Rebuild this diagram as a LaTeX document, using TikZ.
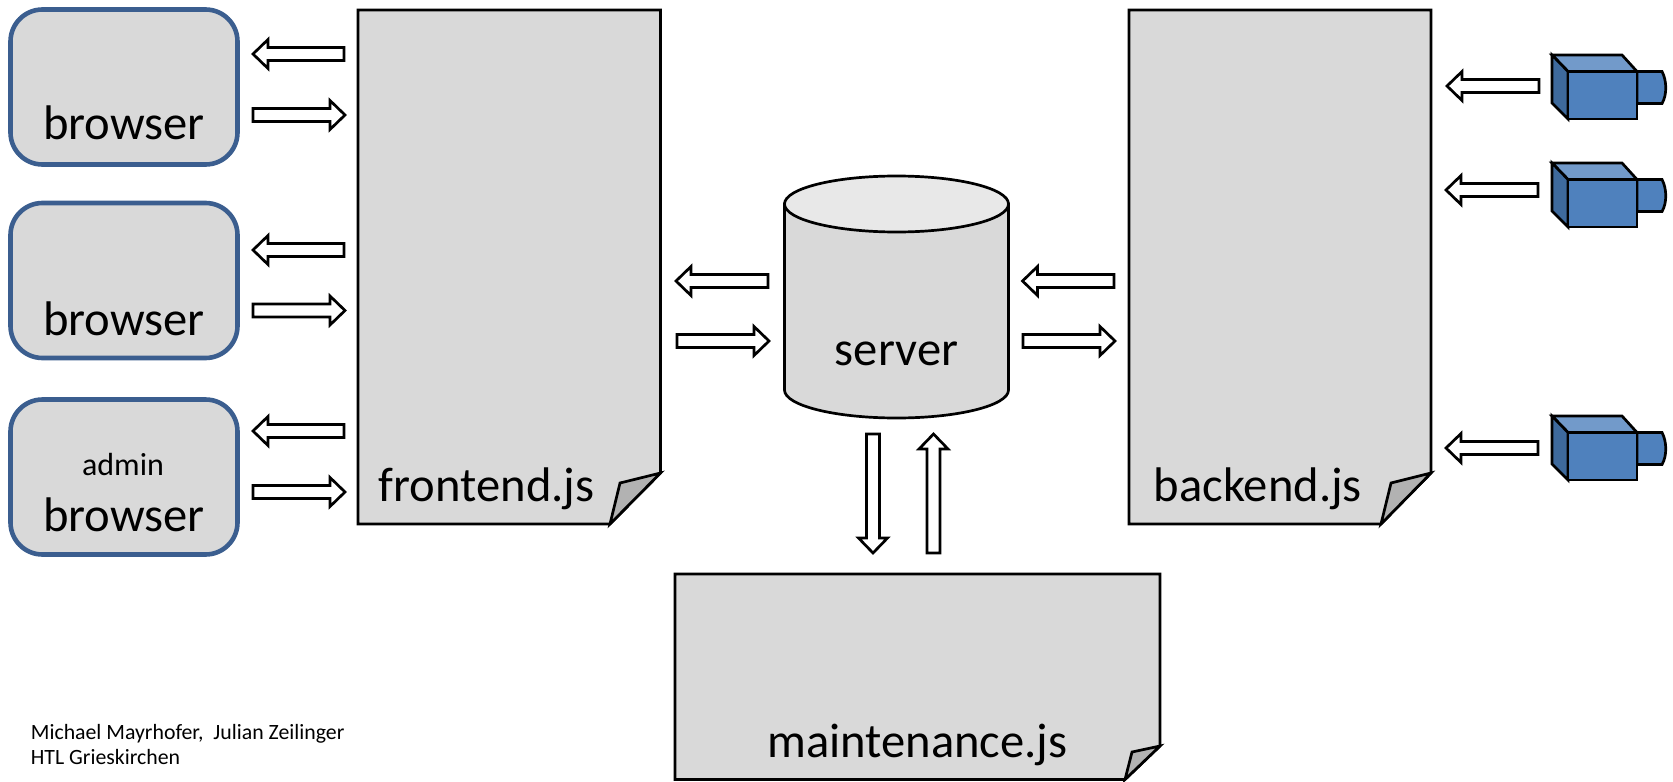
\documentclass[tikz,border=0pt]{standalone}
\usepackage{fontspec}
\setmainfont{Carlito}
\usetikzlibrary{calc}
\definecolor{boxgrey}{HTML}{D9D9D9}
\definecolor{topgrey}{HTML}{E8E8E8}
\definecolor{foldgrey}{HTML}{B2B2B2}
\definecolor{browserblue}{HTML}{3B5E8F}
\definecolor{camfront}{HTML}{4F81BD}
\definecolor{camtop}{HTML}{729ACA}
\definecolor{camside}{HTML}{3E6A9D}
\tikzset{
  x=0.5pt,y=-0.5pt,
  browserbox/.style={draw=browserblue,line width=2.3pt,fill=boxgrey,rounded corners=16pt,inner sep=0pt,outer sep=0pt,minimum width=113.5pt,minimum height=77.5pt,anchor=north west},
  blackline/.style={draw=black,line width=1.35pt,line join=miter},
  bigtext/.style={font=\fontsize{24.3}{29}\selectfont,inner sep=0pt,anchor=base,text=black},
  smalltext/.style={font=\fontsize{16}{19}\selectfont,inner sep=0pt,anchor=base,text=black},
  foottext/.style={font=\fontsize{10.9}{13}\selectfont,inner sep=0pt,anchor=base west,text=black},
  pics/blockarrow/.style={code={
    \draw[blackline,fill=white,miter limit=10] (0,-6.5) -- (#1-15,-6.5) -- (#1-15,-14.5) -- (#1,0) -- (#1-15,14.5) -- (#1-15,6.5) -- (0,6.5) -- cycle;
  }},
  pics/camera/.style={code={
    % lens
    \draw[blackline,fill=camfront] (85,16.5) -- (110,16.5) .. controls (115,26) and (115,40) .. (110,48.5) -- (85,48.5) -- cycle;
    % top
    \draw[blackline,fill=camtop] (0,0) -- (70,0) -- (85,16.5) -- (16,16.5) -- cycle;
    % side
    \draw[blackline,fill=camside] (0,0) -- (16,16.5) -- (16,64) -- (0,48) -- cycle;
    % front
    \draw[blackline,fill=camfront] (16,16.5) rectangle (85,64);
  }}
}
\newcommand{\pagesheet}[8]{% name, left, top, right, bottom, cut-x, cut-y, foldoffset
  \path[blackline,fill=boxgrey] (#2,#3) -- (#4,#3) -- (#4,#7) -- (#6,#5) -- (#2,#5) -- cycle;
  \coordinate (#1) at (#2,#3);
  \path[blackline,fill=foldgrey] (#4,#7) -- ($(#6,#7)+(#8)$) -- (#6,#5) -- cycle;
}
\begin{document}
\begin{tikzpicture}
\useasboundingbox (0,0) rectangle (1673,781);

% browsers
\node[browserbox] (b1) at (10.5,9.5) {};
\node[browserbox] (b2) at (10.5,203) {};
\node[browserbox] (b3) at (10.5,399.5) {};
\node[bigtext] (t1) at (124,140) {browser};
\node[bigtext] (t2) at (124,335) {browser};
\node[bigtext] (t3) at (124,531.5) {browser};
\node[smalltext] (t3a) at (123,475) {admin};

% pages
\pagesheet{front}{358}{10}{660.5}{524}{610}{473}{10,10}
\pagesheet{back}{1129}{10}{1431}{524}{1381}{473}{10,10}
\pagesheet{maint}{675}{574}{1160}{779.5}{1125}{746}{7,6}
\node[bigtext,anchor=base west] (tf) at (378.5,501) {frontend.js};
\node[bigtext,anchor=base west] (tb) at (1153.5,501) {backend.js};
\node[bigtext,anchor=base west] (tm) at (767,757) {maintenance.js};

% server
\path[blackline,fill=boxgrey] (784.5,204) -- (784.5,390) arc[x radius=112,y radius=-28,start angle=180,end angle=360] -- (1008.5,204) -- cycle;
\path[blackline,fill=topgrey] (896.5,204) ellipse[x radius=112,y radius=28];
\coordinate (server) at (896.5,204);
\node[bigtext] (ts) at (896.5,365) {server};

% arrows browser <-> frontend
\pic[rotate=180] at (344,54) {blockarrow=91};
\pic at (253,115) {blockarrow=92};
\pic[rotate=180] at (344,250) {blockarrow=91};
\pic at (253,310.5) {blockarrow=92};
\pic[rotate=180] at (344,431) {blockarrow=91};
\pic at (253,492) {blockarrow=92};
% frontend <-> server
\pic[rotate=180] at (768,281) {blockarrow=92};
\pic at (677,341) {blockarrow=92};
% server <-> backend
\pic[rotate=180] at (1114,281) {blockarrow=91.5};
\pic at (1023,341) {blockarrow=92};
% server <-> maintenance
\pic[rotate=-90] at (873,434) {blockarrow=119};
\pic[rotate=90] at (933.5,553) {blockarrow=119};
% cameras
\pic[rotate=180] at (1539,86) {blockarrow=92};
\pic[rotate=180] at (1538,190) {blockarrow=92};
\pic[rotate=180] at (1538,448) {blockarrow=92};
\pic at (1552,55) {camera};
\pic at (1552,163) {camera};
\pic at (1552,416) {camera};

% footer
\node[foottext] (f1) at (30.5,739) {Michael Mayrhofer,\ \ Julian Zeilinger};
\node[foottext] (f2) at (30.5,764) {HTL Grieskirchen};
\end{tikzpicture}
\end{document}
